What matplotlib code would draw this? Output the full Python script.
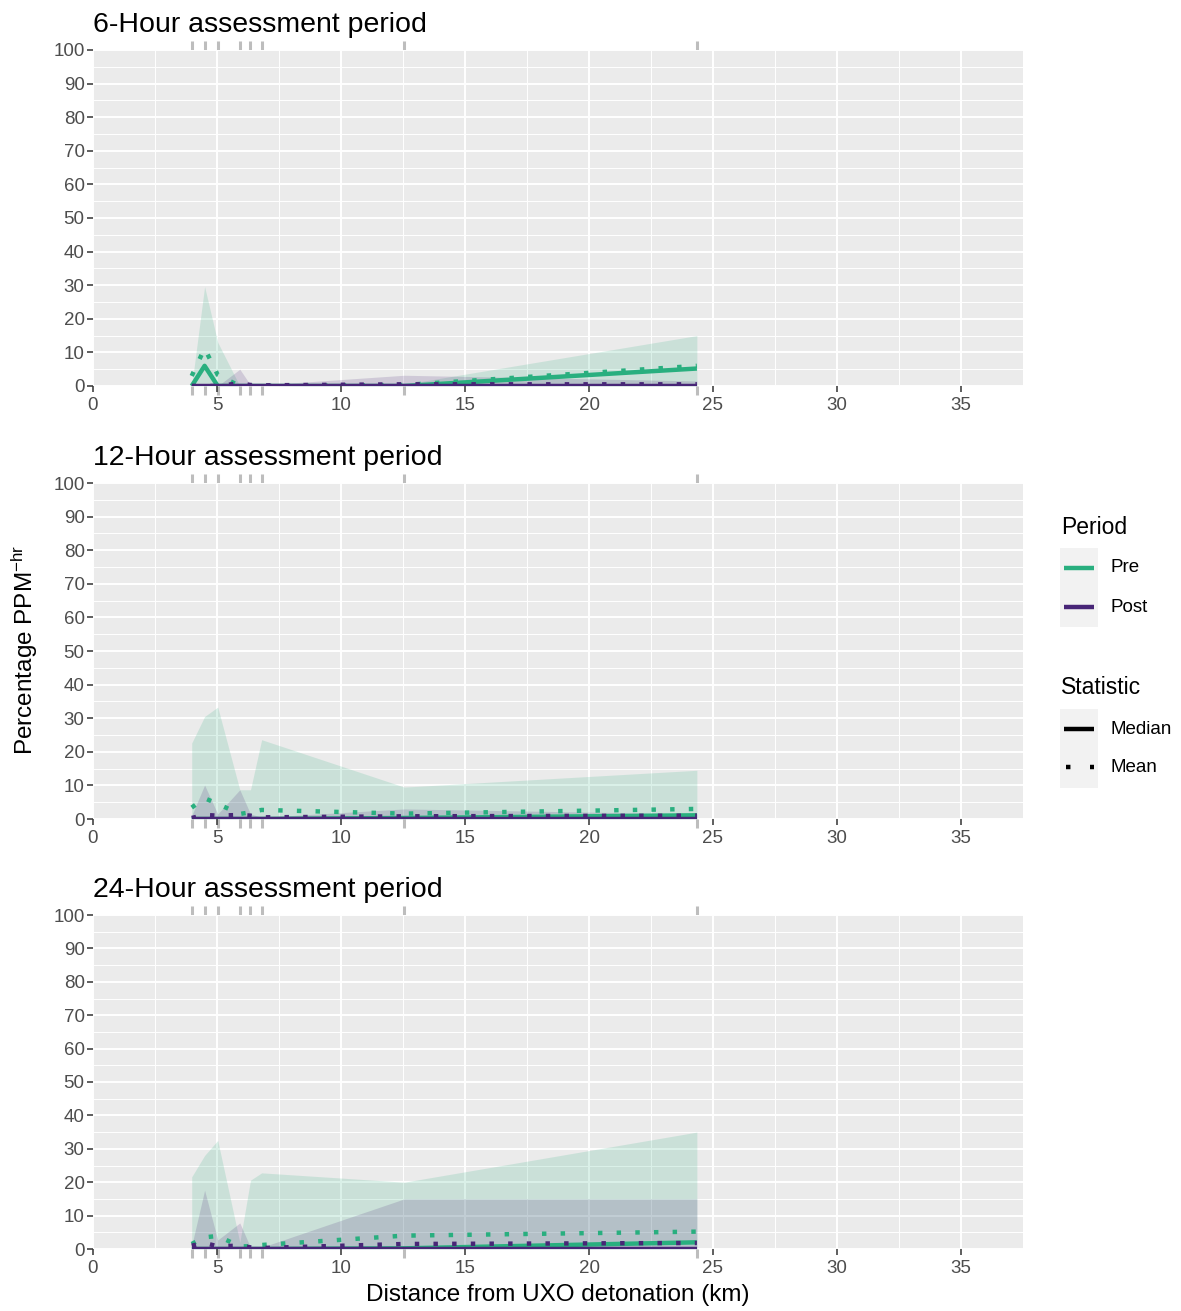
import numpy as np
import matplotlib
matplotlib.use("Agg")
import matplotlib.pyplot as plt
import matplotlib.transforms as mtransforms
from matplotlib.patches import Rectangle

plt.rcParams['font.family'] = ['Liberation Sans', 'DejaVu Sans']
plt.rcParams['mathtext.default'] = 'regular'


# station distances (km) - also used for the rug marks
distance_km = [3.98, 4.5, 5.03, 5.92, 6.35, 6.8, 12.55, 24.35]

# 6-hour assessment period
pre_median_6h = [0, 6.0, 0, 0, 0, 0, 0, 5.2]
pre_mean_6h = [3.0, 11.2, 3.3, 0, 0, 0, 0.3, 6.0]
pre_upper_6h = [0, 29.6, 13.0, 0, 0, 0, 0.5, 15.0]
post_median_6h = [0, 0, 0, 0, 0, 0, 0, 0]
post_mean_6h = [0, 0, 0, 0.8, 0.3, 0.2, 0.5, 0.5]
post_upper_6h = [0, 0, 0, 5.0, 0.3, 0.3, 3.2, 1.5]

# 12-hour assessment period
pre_median_12h = [0, 0, 0, 0, 0, 0, 0.3, 1.1]
pre_mean_12h = [3.4, 6.2, 4.5, 1.5, 2.0, 2.7, 1.6, 3.0]
pre_upper_12h = [22.6, 30.5, 33.3, 8.7, 8.7, 23.6, 9.5, 14.5]
post_median_12h = [0, 0, 0, 0, 0, 0, 0, 0]
post_mean_12h = [0.3, 1.2, 1.0, 1.2, 1.0, 0.5, 0.8, 1.0]
post_upper_12h = [1.0, 10.1, 1.5, 8.7, 1.5, 0.5, 3.0, 1.5]

# 24-hour assessment period
pre_median_24h = [0, 0, 0, 0, 0, 0, 0.2, 2.0]
pre_mean_24h = [1.5, 3.5, 3.9, 0.8, 0.8, 1.2, 4.0, 5.2]
pre_upper_24h = [21.6, 28.0, 32.5, 2.0, 20.6, 22.8, 20.0, 35.0]
post_median_24h = [0, 0, 0, 0, 0, 0, 0, 0]
post_mean_24h = [1.0, 1.8, 0.8, 1.0, 0.5, 0.3, 1.5, 1.8]
post_upper_24h = [1.0, 17.6, 2.7, 7.8, 0.5, 0.5, 15.0, 15.0]

panel_titles = ["6-Hour assessment period", "12-Hour assessment period",
                "24-Hour assessment period"]
x_ticks = [0, 5, 10, 15, 20, 25, 30, 35]
y_ticks = [0, 10, 20, 30, 40, 50, 60, 70, 80, 90, 100]

PRE = "#29AF7F"
POST = "#482677"
W, H = 1181, 1311
LW = 3.2


def px_box(left, top, right, bottom):
    # pixel box -> figure fraction
    return [left / W, 1 - bottom / H, (right - left) / W, (bottom - top) / H]


fig = plt.figure(figsize=(W / 100, H / 100), dpi=100)

panels = [
    ((93, 50, 1023, 386), pre_median_6h, pre_mean_6h, pre_upper_6h,
     post_median_6h, post_mean_6h, post_upper_6h),
    ((93, 483, 1023, 819), pre_median_12h, pre_mean_12h, pre_upper_12h,
     post_median_12h, post_mean_12h, post_upper_12h),
    ((93, 915, 1023, 1249), pre_median_24h, pre_mean_24h, pre_upper_24h,
     post_median_24h, post_mean_24h, post_upper_24h),
]

dotted = (0, (1, 3.2))

for i, (box, pre_med, pre_mean, pre_up, post_med, post_mean, post_up) in enumerate(panels):
    ax = fig.add_axes(px_box(*box))
    ph = box[3] - box[1]
    ax.set_facecolor("#EBEBEB")
    ax.set_xlim(0, 37.5)
    ax.set_ylim(0, 100)
    ax.set_xticks(x_ticks)
    ax.set_xticks(np.arange(2.5, 38, 5), minor=True)
    ax.set_yticks(y_ticks)
    ax.set_yticks(np.arange(5, 100, 10), minor=True)
    ax.grid(which="major", color="white", lw=1.4)
    ax.grid(which="minor", color="white", lw=0.7)
    ax.set_axisbelow(True)
    ax.tick_params(which="minor", length=0)
    ax.tick_params(which="major", length=4, width=1.1, color="#333333",
                   labelcolor="#4D4D4D", labelsize=13.5, pad=2)
    ax.tick_params(axis="x", pad=4)
    for s in ax.spines.values():
        s.set_visible(False)

    # ribbons
    ax.fill_between(distance_km, 0, pre_up, color=PRE, alpha=0.17, lw=0)
    ax.fill_between(distance_km, 0, post_up, color=POST, alpha=0.17, lw=0)

    # median / mean lines
    ax.plot(distance_km, pre_med, color=PRE, lw=LW, solid_capstyle="butt")
    ax.plot(distance_km, pre_mean, color=PRE, lw=LW, ls=dotted, dash_capstyle="butt")
    ax.plot(distance_km, post_med, color=POST, lw=LW, solid_capstyle="butt")
    ax.plot(distance_km, post_mean, color=POST, lw=LW, ls=dotted, dash_capstyle="butt")

    # rug outside the panel, top and bottom
    trans = mtransforms.blended_transform_factory(ax.transData, ax.transAxes)
    rug = 9 / ph
    for d in distance_km:
        ax.plot([d, d], [1, 1 + rug], transform=trans, color="#BDBDBD", lw=2.2,
                clip_on=False, solid_capstyle="butt", zorder=0.4)
        ax.plot([d, d], [-rug, 0], transform=trans, color="#BDBDBD", lw=2.2,
                clip_on=False, solid_capstyle="butt", zorder=0.4)

    ax.text(0, 1 + 18 / ph, panel_titles[i], transform=ax.transAxes,
            fontsize=20.5, ha="left", va="baseline", color="black")

fig.text(558 / W, 1 - 1295 / H, "Distance from UXO detonation (km)",
         fontsize=17.5, ha="center", va="center")
fig.text(25 / W, 1 - 650 / H, "Percentage PPM$^{-hr}$", rotation=90,
         fontsize=17.5, ha="center", va="center")

# legend drawn by hand in pixel coordinates
lax = fig.add_axes([0, 0, 1, 1])
lax.set_xlim(0, W)
lax.set_ylim(H, 0)
lax.axis("off")

lax.text(1061, 527, "Period", fontsize=16.5, va="center", ha="left")
lax.add_patch(Rectangle((1060, 548), 38, 79, color="#F2F2F2", lw=0))
for y, c, lab in [(568, PRE, "Pre"), (607, POST, "Post")]:
    lax.plot([1064, 1094], [y, y], color=c, lw=LW, solid_capstyle="butt")
    lax.text(1111, y, lab, fontsize=13.5, va="center", ha="left")

lax.text(1061, 687, "Statistic", fontsize=16.5, va="center", ha="left")
lax.add_patch(Rectangle((1060, 709), 38, 79, color="#F2F2F2", lw=0))
lax.plot([1064, 1094], [729, 729], color="black", lw=LW, solid_capstyle="butt")
lax.text(1111, 729, "Median", fontsize=13.5, va="center", ha="left")
lax.plot([1066, 1094], [767, 767], color="black", lw=LW, ls=(0, (1, 4.4)),
         dash_capstyle="butt")
lax.text(1111, 767, "Mean", fontsize=13.5, va="center", ha="left")

fig.savefig("out.png", dpi=100)
